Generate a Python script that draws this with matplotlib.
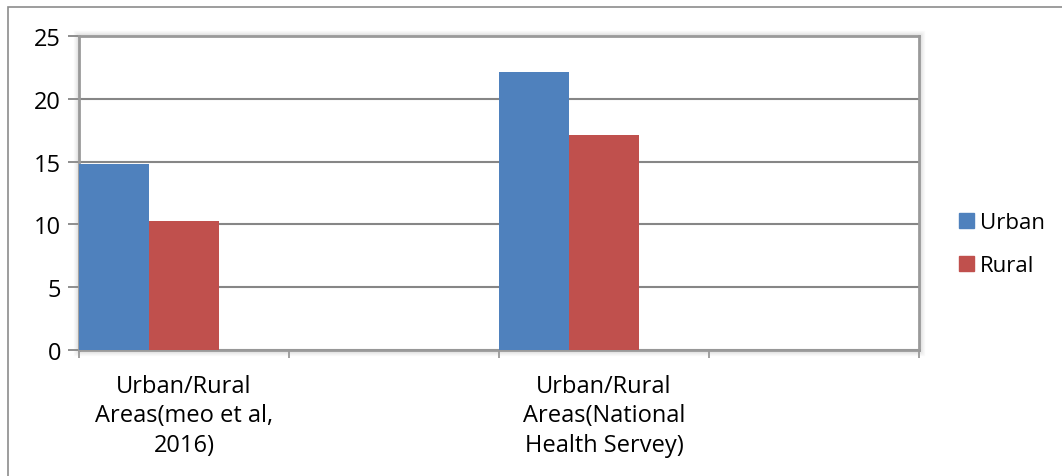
"""Urban vs rural prevalence, Excel-style clustered columns."""

import matplotlib
matplotlib.use("Agg")
import matplotlib.pyplot as plt
import matplotlib.patches as mpatches
import numpy as np

# data (empty slots are blank categories in the source chart)
CATEGORIES = ["Urban/Rural\nAreas(meo et al,\n2016)", "",
              "Urban/Rural\nAreas(National\nHealth Servey)", ""]
URBAN = [14.8, None, 22.1, None]
RURAL = [10.3, None, 17.1, None]
SERIES = ["Urban", "Rural"]
Y_TICKS = [0, 5, 10, 15, 20, 25]

BLUE = "#4f81bd"
RED = "#c0504d"
GRID = "#868686"
FONT = "Open Sans"

W, H = 1062, 477
plt.rcParams["font.family"] = [FONT, "DejaVu Sans"]

fig = plt.figure(figsize=(W / 100, H / 100), dpi=100, facecolor="white")

# chart-area border (runs off the right and bottom of the picture)
fig.add_artist(mpatches.Rectangle((8 / W, -0.05), 1.1, 1 - 7.5 / H + 0.05,
                                  transform=fig.transFigure, fill=False,
                                  edgecolor="#8c8c8c", linewidth=1.2))

left, right, top, bottom = 79, 919, 37, 351
ax = fig.add_axes([left / W, 1 - bottom / H, (right - left) / W, (bottom - top) / H])

# soft shadow round the plot area
for i, a in enumerate([0.10, 0.07, 0.05, 0.03, 0.02]):
    d = i + 1
    fig.add_artist(mpatches.Rectangle(((left - d) / W, 1 - (bottom + d) / H),
                                      (right - left + 2 * d) / W, (bottom - top + 2 * d) / H,
                                      transform=fig.transFigure, fill=False,
                                      edgecolor="black", alpha=a, linewidth=1.0, zorder=0))

x = np.arange(len(CATEGORIES))
w = 1 / 3
urban = np.array([np.nan if v is None else v for v in URBAN])
rural = np.array([np.nan if v is None else v for v in RURAL])
ax.bar(x - w, urban, width=w, color=BLUE, label=SERIES[0], zorder=3)
ax.bar(x, rural, width=w, color=RED, label=SERIES[1], zorder=3)

ax.set_xlim(-0.5, len(CATEGORIES) - 0.5)
ax.set_ylim(0, 25)
ax.set_yticks(Y_TICKS)
ax.yaxis.grid(True, color=GRID, linewidth=1.5, zorder=1)
ax.set_axisbelow(True)

ax.set_xticks(x)
ax.set_xticklabels(CATEGORIES, fontsize=17, linespacing=1.32)
ax.set_xticks(np.arange(len(CATEGORIES) + 1) - 0.5, minor=True)
ax.tick_params(axis="x", which="major", length=0, pad=17)
ax.tick_params(axis="x", which="minor", length=6, width=1.3, color="#9a9a9a", direction="out")
ax.tick_params(axis="y", length=8, width=1.3, color=GRID, labelsize=17, pad=5)

for side in ["left", "bottom", "top", "right"]:
    ax.spines[side].set_color("#9a9a9a")
    ax.spines[side].set_linewidth(2.0)

handles = [mpatches.Patch(color=BLUE), mpatches.Patch(color=RED)]
leg = fig.legend(handles, SERIES, loc="center left", bbox_to_anchor=(959 / W, 1 - 245 / H),
                 frameon=False, fontsize=16, handlelength=0.66, handleheight=0.66,
                 handletextpad=0.3, labelspacing=1.0, borderpad=0, borderaxespad=0)

fig.savefig("out.png", dpi=100, facecolor="white")
